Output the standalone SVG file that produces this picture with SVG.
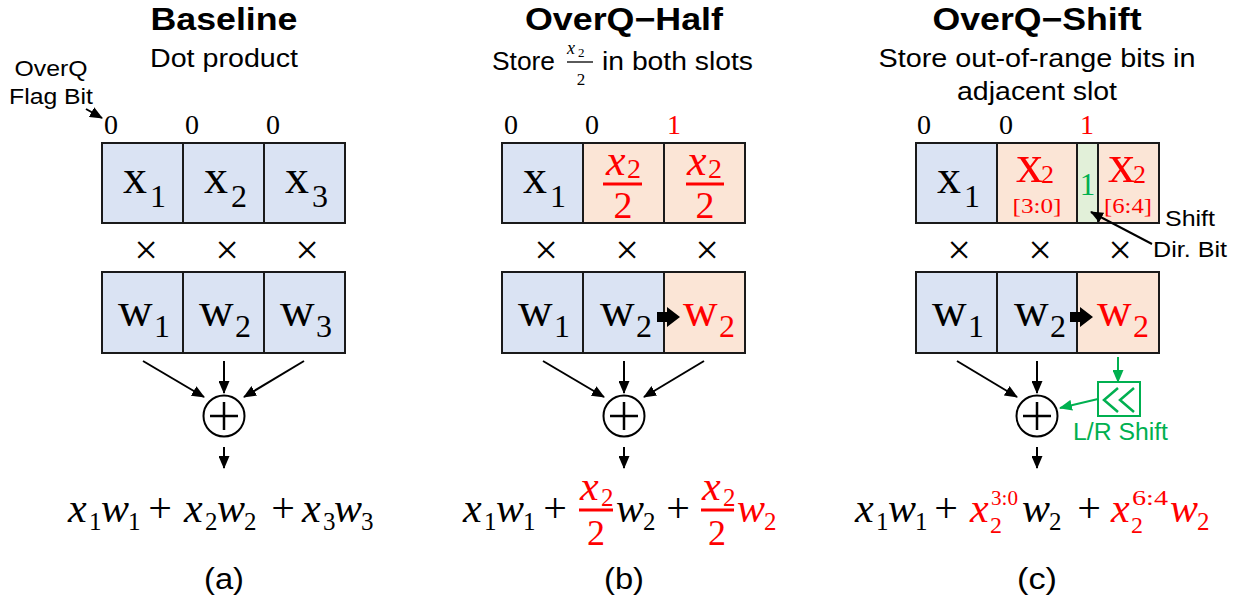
<svg xmlns="http://www.w3.org/2000/svg" width="1239" height="602" viewBox="0 0 1239 602">
<style>
.title{font-family:"Liberation Sans",Arial,sans-serif;font-weight:bold;font-size:31px;text-anchor:middle}
.sub{font-family:"Liberation Sans",Arial,sans-serif;font-size:26px;text-anchor:middle}
.lbl{font-family:"Liberation Sans",Arial,sans-serif;font-size:22px}
.cap{font-family:"Liberation Sans",Arial,sans-serif;font-size:29px;text-anchor:middle}
.flag{font-family:"Liberation Serif","Times New Roman",serif;font-size:28px;text-anchor:middle}
.bx{font-family:"Liberation Serif","Times New Roman",serif;font-size:48px}
.bs{font-family:"Liberation Serif","Times New Roman",serif;font-size:32px}
.mi{font-family:"Liberation Serif","Times New Roman",serif;font-style:italic;font-size:42px}
.ms{font-family:"Liberation Serif","Times New Roman",serif;font-size:25px}
.mo{font-family:"Liberation Serif","Times New Roman",serif;font-size:42px;text-anchor:middle}
.times{font-family:"Liberation Serif","Times New Roman",serif;font-size:42px;text-anchor:middle}
.red{fill:#ff0000}
.grn{fill:#00b050}
.blue{fill:#dae3f3;stroke:#1a1a1a;stroke-width:2}
.org{fill:#fbe5d6;stroke:#1a1a1a;stroke-width:2}
.gbox{fill:#e2f0d9;stroke:#1a1a1a;stroke-width:2}
.ar{stroke:#000;stroke-width:2;fill:none;marker-end:url(#ah)}
.gar{stroke:#00b050;stroke-width:2;fill:none;marker-end:url(#gah)}
</style>
<defs>
<marker id="ah" markerUnits="userSpaceOnUse" markerWidth="13" markerHeight="11" refX="12" refY="5.5" orient="auto"><path d="M0,0 L13,5.5 L0,11 z" fill="#000"/></marker>
<marker id="gah" markerUnits="userSpaceOnUse" markerWidth="13" markerHeight="11" refX="12" refY="5.5" orient="auto"><path d="M0,0 L13,5.5 L0,11 z" fill="#00b050"/></marker>
</defs>
<rect width="1239" height="602" fill="#fff"/>

<!-- ===== Panel (a) ===== -->
<g id="panel-a-header">
<text class="title" x="224" y="30" textLength="147" lengthAdjust="spacingAndGlyphs">Baseline</text>
<text class="sub" x="224" y="67" textLength="148" lengthAdjust="spacingAndGlyphs">Dot product</text>
<text class="lbl" x="51" y="76" text-anchor="middle" textLength="73" lengthAdjust="spacingAndGlyphs">OverQ</text>
<text class="lbl" x="51" y="104" text-anchor="middle" textLength="84" lengthAdjust="spacingAndGlyphs">Flag Bit</text>
</g>
<g id="a-flags">
<text class="flag" x="111" y="134">0</text>
<text class="flag" x="192" y="134">0</text>
<text class="flag" x="273" y="134">0</text>
</g>
<g id="a-x1"><rect class="blue" x="102" y="143" width="81" height="80"/><text class="bx" x="123" y="193">x</text><text class="bs" x="150" y="207">1</text></g>
<g id="a-x2"><rect class="blue" x="183" y="143" width="81" height="80"/><text class="bx" x="204" y="193">x</text><text class="bs" x="231" y="207">2</text></g>
<g id="a-x3"><rect class="blue" x="264" y="143" width="81" height="80"/><text class="bx" x="285" y="193">x</text><text class="bs" x="312" y="207">3</text></g>
<g id="a-times">
<text class="times" x="146" y="264">×</text><text class="times" x="227" y="264">×</text><text class="times" x="307" y="264">×</text>
</g>
<g id="a-w1"><rect class="blue" x="102" y="272" width="81" height="81"/><text class="bx" x="118" y="326">w</text><text class="bs" x="154" y="337">1</text></g>
<g id="a-w2"><rect class="blue" x="183" y="272" width="81" height="81"/><text class="bx" x="199" y="326">w</text><text class="bs" x="235" y="337">2</text></g>
<g id="a-w3"><rect class="blue" x="264" y="272" width="81" height="81"/><text class="bx" x="280" y="326">w</text><text class="bs" x="316" y="337">3</text></g>
<g id="a-sum"><circle cx="224" cy="416" r="20.5" fill="#fff" stroke="#000" stroke-width="2"/><path d="M210,416 H238 M224,402 V430" stroke="#000" stroke-width="2.5"/></g>
<g id="a-formula">
<text class="mi" x="68" y="522">x</text><text class="ms" x="89" y="530">1</text>
<text class="mi" x="101" y="522">w</text><text class="ms" x="128" y="530">1</text>
<text class="mo" x="160" y="522">+</text>
<text class="mi" x="184" y="522">x</text><text class="ms" x="205" y="530">2</text>
<text class="mi" x="217" y="522">w</text><text class="ms" x="244" y="530">2</text>
<text class="mo" x="283" y="522">+</text>
<text class="mi" x="302" y="522">x</text><text class="ms" x="323" y="530">3</text>
<text class="mi" x="334" y="522">w</text><text class="ms" x="361" y="530">3</text>
</g>
<text class="cap" x="224" y="589" textLength="40" lengthAdjust="spacingAndGlyphs">(a)</text>

<!-- ===== Panel (b) ===== -->
<g id="panel-b-header">
<text class="title" x="624" y="30" textLength="198" lengthAdjust="spacingAndGlyphs">OverQ−Half</text>
<text class="sub" x="492" y="70" textLength="63" lengthAdjust="spacingAndGlyphs" style="text-anchor:start">Store</text>
<text x="567" y="54" style="font-family:'Liberation Serif',serif;font-style:italic;font-size:18px">x</text>
<text x="578" y="57" style="font-family:'Liberation Serif',serif;font-size:13px">2</text>
<line x1="567" y1="62" x2="593" y2="62" stroke="#000" stroke-width="1.3"/>
<text x="581" y="85" text-anchor="middle" style="font-family:'Liberation Serif',serif;font-size:17px">2</text>
<text class="sub" x="602" y="70" textLength="151" lengthAdjust="spacingAndGlyphs" style="text-anchor:start">in both slots</text>
</g>
<g id="b-flags">
<text class="flag" x="511" y="134">0</text>
<text class="flag" x="592" y="134">0</text>
<text class="flag red" x="674" y="134">1</text>
</g>
<g id="b-x1"><rect class="blue" x="502" y="143" width="81" height="80"/><text class="bx" x="523" y="193">x</text><text class="bs" x="550" y="207">1</text></g>
<g id="b-x2a"><rect class="org" x="583" y="143" width="81" height="80"/>
<text class="mi red" x="606" y="175" style="font-size:44px">x</text><text class="ms red" x="627" y="178" style="font-size:28px">2</text>
<line x1="603" y1="184" x2="642" y2="184" stroke="#ff0000" stroke-width="3"/>
<text class="ms red" x="623" y="218" style="font-size:38px;text-anchor:middle">2</text></g>
<g id="b-x2b"><rect class="org" x="664" y="143" width="81" height="80"/>
<text class="mi red" x="687" y="175" style="font-size:44px">x</text><text class="ms red" x="708" y="178" style="font-size:28px">2</text>
<line x1="686" y1="184" x2="724" y2="184" stroke="#ff0000" stroke-width="3"/>
<text class="ms red" x="705" y="218" style="font-size:38px;text-anchor:middle">2</text></g>
<g id="b-times">
<text class="times" x="546" y="264">×</text><text class="times" x="627" y="264">×</text><text class="times" x="707" y="264">×</text>
</g>
<g id="b-w1"><rect class="blue" x="502" y="272" width="81" height="81"/><text class="bx" x="518" y="326">w</text><text class="bs" x="554" y="337">1</text></g>
<g id="b-w2"><rect class="blue" x="583" y="272" width="81" height="81"/><text class="bx" x="600" y="326">w</text><text class="bs" x="636" y="337">2</text></g>
<g id="b-w2r"><rect class="org" x="664" y="272" width="81" height="81"/><text class="bx red" x="683" y="326">w</text><text class="bs red" x="719" y="337">2</text></g>
<g id="b-sum"><circle cx="624" cy="416" r="20.5" fill="#fff" stroke="#000" stroke-width="2"/><path d="M610,416 H638 M624,402 V430" stroke="#000" stroke-width="2.5"/></g>
<g id="b-formula">
<text class="mi" x="463" y="522">x</text><text class="ms" x="484" y="530">1</text>
<text class="mi" x="496" y="522">w</text><text class="ms" x="523" y="530">1</text>
<text class="mo" x="555" y="522">+</text>
<text class="mi red" x="580" y="500">x</text><text class="ms red" x="601" y="506">2</text>
<line x1="579" y1="510" x2="613" y2="510" stroke="#ff0000" stroke-width="3"/>
<text class="mo red" x="596" y="545" style="font-size:36px">2</text>
<text class="mi" x="616" y="522">w</text><text class="ms" x="643" y="530">2</text>
<text class="mo" x="678" y="522">+</text>
<text class="mi red" x="702" y="500">x</text><text class="ms red" x="723" y="506">2</text>
<line x1="701" y1="510" x2="734" y2="510" stroke="#ff0000" stroke-width="3"/>
<text class="mo red" x="717" y="545" style="font-size:36px">2</text>
<text class="mi red" x="737" y="522">w</text><text class="ms red" x="764" y="530">2</text>
</g>
<text class="cap" x="624" y="589" textLength="40" lengthAdjust="spacingAndGlyphs">(b)</text>

<!-- ===== Panel (c) ===== -->
<g id="panel-c-header">
<text class="title" x="1037" y="30" textLength="209" lengthAdjust="spacingAndGlyphs">OverQ−Shift</text>
<text class="sub" x="1037" y="67" textLength="317" lengthAdjust="spacingAndGlyphs">Store out-of-range bits in</text>
<text class="sub" x="1037" y="100" textLength="160" lengthAdjust="spacingAndGlyphs">adjacent slot</text>
</g>
<g id="c-flags">
<text class="flag" x="924" y="134">0</text>
<text class="flag" x="1006" y="134">0</text>
<text class="flag red" x="1087" y="134">1</text>
</g>
<g id="c-x1"><rect class="blue" x="916" y="143" width="81" height="80"/><text class="bx" x="937" y="193">x</text><text class="bs" x="964" y="207">1</text></g>
<g id="c-x2lo"><rect class="org" x="997" y="143" width="80" height="80"/>
<text class="bx red" x="1016" y="182" style="font-size:54px">x</text><text class="bs red" x="1041" y="183" style="font-size:26px">2</text>
<text class="red" x="1037" y="213" text-anchor="middle" textLength="49" lengthAdjust="spacingAndGlyphs" style="font-family:'Liberation Serif',serif;font-size:22px">[3:0]</text></g>
<g id="c-dir"><rect class="gbox" x="1077" y="143" width="21" height="80"/><text class="grn" x="1087.5" y="195" text-anchor="middle" style="font-family:'Liberation Serif',serif;font-size:31px">1</text></g>
<g id="c-x2hi"><rect class="org" x="1098" y="143" width="61" height="80"/>
<text class="bx red" x="1108" y="182" style="font-size:54px">x</text><text class="bs red" x="1133" y="183" style="font-size:26px">2</text>
<text class="red" x="1128" y="213" text-anchor="middle" textLength="48" lengthAdjust="spacingAndGlyphs" style="font-family:'Liberation Serif',serif;font-size:22px">[6:4]</text></g>
<g id="c-dirlabel">
<text class="lbl" x="1165" y="226" textLength="50" lengthAdjust="spacingAndGlyphs">Shift</text>
<text class="lbl" x="1153" y="257" textLength="74" lengthAdjust="spacingAndGlyphs">Dir. Bit</text>
</g>
<g id="c-times">
<text class="times" x="959" y="264">×</text><text class="times" x="1040" y="264">×</text><text class="times" x="1120" y="264">×</text>
</g>
<g id="c-w1"><rect class="blue" x="916" y="272" width="81" height="81"/><text class="bx" x="932" y="326">w</text><text class="bs" x="968" y="337">1</text></g>
<g id="c-w2"><rect class="blue" x="997" y="272" width="80" height="81"/><text class="bx" x="1014" y="326">w</text><text class="bs" x="1050" y="337">2</text></g>
<g id="c-w2r"><rect class="org" x="1077" y="272" width="82" height="81"/><text class="bx red" x="1097" y="326">w</text><text class="bs red" x="1133" y="337">2</text></g>
<g id="c-shifter"><rect x="1098" y="382" width="42" height="34" fill="#fff" stroke="#00b050" stroke-width="2"/>
<path d="M1118,388 L1104,400 L1118,412 M1134,388 L1120,400 L1134,412" fill="none" stroke="#00b050" stroke-width="2.5"/>
<text class="lbl grn" x="1073" y="440" textLength="95" lengthAdjust="spacingAndGlyphs" style="font-size:23px">L/R Shift</text></g>
<g id="c-sum"><circle cx="1037" cy="416" r="20.5" fill="#fff" stroke="#000" stroke-width="2"/><path d="M1023,416 H1051 M1037,402 V430" stroke="#000" stroke-width="2.5"/></g>
<g id="c-formula">
<text class="mi" x="855" y="522">x</text><text class="ms" x="876" y="530">1</text>
<text class="mi" x="888" y="522">w</text><text class="ms" x="915" y="530">1</text>
<text class="mo" x="946" y="522">+</text>
<text class="mi red" x="970" y="522">x</text><text class="ms red" x="990" y="533" style="font-size:24px">2</text><text class="ms red" x="991" y="505" textLength="27" lengthAdjust="spacingAndGlyphs" style="font-size:20px">3:0</text>
<text class="mi" x="1022" y="522">w</text><text class="ms" x="1049" y="530">2</text>
<text class="mo" x="1089" y="522">+</text>
<text class="mi red" x="1111" y="522">x</text><text class="ms red" x="1131" y="533" style="font-size:24px">2</text><text class="ms red" x="1132" y="505" textLength="36" lengthAdjust="spacingAndGlyphs" style="font-size:20px">6:4</text>
<text class="mi red" x="1170" y="522">w</text><text class="ms red" x="1197" y="530">2</text>
</g>
<text class="cap" x="1037" y="589" textLength="40" lengthAdjust="spacingAndGlyphs">(c)</text>

<!-- ===== Connectors ===== -->
<g id="connectors">
<line class="ar" x1="86" y1="109" x2="102" y2="118"/>
<line class="ar" x1="143" y1="361" x2="204" y2="397"/>
<line class="ar" x1="224" y1="361" x2="224" y2="393"/>
<line class="ar" x1="304" y1="361" x2="244" y2="397"/>
<line class="ar" x1="224" y1="447" x2="224" y2="468"/>
<line class="ar" x1="543" y1="361" x2="604" y2="397"/>
<line class="ar" x1="624" y1="361" x2="624" y2="393"/>
<line class="ar" x1="704" y1="361" x2="644" y2="397"/>
<line class="ar" x1="624" y1="447" x2="624" y2="468"/>
<line class="ar" x1="957" y1="361" x2="1017" y2="397"/>
<line class="ar" x1="1037" y1="361" x2="1037" y2="393"/>
<line class="ar" x1="1037" y1="447" x2="1037" y2="468"/>
<line class="ar" x1="1152" y1="244" x2="1091" y2="212"/>
<line class="gar" x1="1118" y1="357" x2="1118" y2="382"/>
<line class="gar" x1="1098" y1="399" x2="1060" y2="408"/>
<polygon points="657,312 667,312 667,307 680,317 667,327 667,322 657,322" fill="#000"/>
<polygon points="1070,312 1080,312 1080,307 1093,317 1080,327 1080,322 1070,322" fill="#000"/>
</g>
</svg>
